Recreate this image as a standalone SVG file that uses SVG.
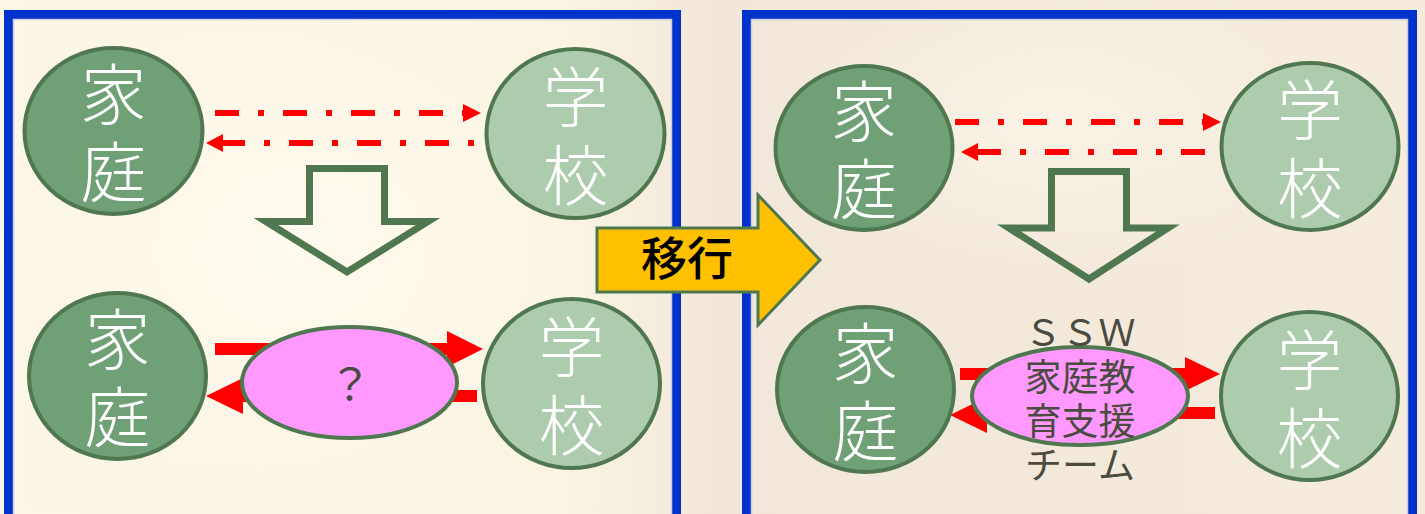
<svg xmlns="http://www.w3.org/2000/svg" width="1425" height="514" viewBox="0 0 1425 514">
<defs>
<linearGradient id="bg" x1="0" y1="0" x2="1" y2="0">
<stop offset="0" stop-color="#FCF6E6"/>
<stop offset="0.4" stop-color="#FBF4E2"/>
<stop offset="0.5" stop-color="#F1E7DA"/>
<stop offset="1" stop-color="#F5ECDD"/>
</linearGradient>
<radialGradient id="glow" cx="0.5" cy="0.5" r="0.5">
<stop offset="0" stop-color="#FFFBEF" stop-opacity="0.9"/>
<stop offset="1" stop-color="#FFFBEF" stop-opacity="0"/>
</radialGradient>
</defs>
<style>
.panel{fill:none;stroke:#0033CC;stroke-width:9}
.inner{fill:none;stroke:#C9CDE6;stroke-width:1.5}
.dark{fill:#6FA076;stroke:#507850;stroke-width:4}
.light{fill:#ADCBAD;stroke:#507850;stroke-width:4}
.pink{fill:#FF99FF;stroke:#507850;stroke-width:4}
.nt{font-family:"Noto Sans CJK JP","Noto Sans CJK SC",sans-serif;font-size:66px;font-weight:300;fill:#FFFFFF;text-anchor:middle}
.dash{stroke:#FF0000;stroke-width:6;fill:none;stroke-dasharray:24 19 6 19}
.red{fill:#FF0000}
.down{fill:none;stroke:#507850;stroke-width:7}
.mt{font-family:"Noto Sans CJK JP","Noto Sans CJK SC",sans-serif;font-size:37px;fill:#4B4B3F;text-anchor:middle}
</style>
<rect x="0" y="0" width="1425" height="514" fill="url(#bg)"/>
<ellipse cx="300" cy="250" rx="320" ry="260" fill="url(#glow)"/>
<ellipse cx="1050" cy="120" rx="300" ry="160" fill="url(#glow)" opacity="0.6"/>
<g id="panels">
<rect class="panel" x="8.5" y="14.5" width="668" height="520"/>
<rect class="inner" x="13.5" y="19.5" width="658" height="520"/>
<rect class="panel" x="746.5" y="14.5" width="666" height="520"/>
<rect class="inner" x="751.5" y="19.5" width="656" height="520"/>
</g>
<g id="connectors">
<line class="dash" x1="213" y1="113" x2="464" y2="113" stroke-dashoffset="66"/>
<polygon class="red" points="463,104 481,113 463,122"/>
<line class="dash" x1="223" y1="143" x2="476" y2="143" stroke-dashoffset="2"/>
<polygon class="red" points="223,134 206,143 223,152"/>
<line class="dash" x1="955" y1="122" x2="1204" y2="122"/>
<polygon class="red" points="1203,113 1221,122 1203,131"/>
<line class="dash" x1="978" y1="152" x2="1206" y2="152" stroke-dashoffset="1"/>
<polygon class="red" points="978,143 961,152 978,161"/>
<rect class="red" x="215" y="343" width="233" height="12"/>
<polygon class="red" points="447,331 483,349 447,367"/>
<rect class="red" x="242" y="390" width="235" height="12"/>
<polygon class="red" points="243,378 206,396 243,414"/>
<rect class="red" x="960" y="368" width="226" height="12"/>
<polygon class="red" points="1185,357 1220,374 1185,391"/>
<rect class="red" x="986" y="407" width="229" height="12"/>
<polygon class="red" points="987,397 950,415 987,433"/>
</g>
<g id="down-arrow-left">
<path class="down" d="M309.5,168.5 H384.5 V221.5 H428 L347,272 L266,221.5 H309.5 Z"/>
</g>
<g id="down-arrow-right">
<path class="down" d="M1051.5,171.5 H1126.5 V228 H1168 L1089,279 L1009,228 H1051.5 Z"/>
</g>
<g id="node-l-home-top">
<ellipse class="dark" cx="113.5" cy="131" rx="89" ry="83"/>
<text class="nt" x="113.5" y="119">家<tspan x="113.5" dy="78">庭</tspan></text>
</g>
<g id="node-l-school-top">
<ellipse class="light" cx="575.5" cy="133.5" rx="89" ry="84.5"/>
<text class="nt" x="575.5" y="122">学<tspan x="575.5" dy="78">校</tspan></text>
</g>
<g id="node-l-home-bottom">
<ellipse class="dark" cx="117.5" cy="376" rx="88.5" ry="83"/>
<text class="nt" x="117.5" y="364">家<tspan x="117.5" dy="78">庭</tspan></text>
</g>
<g id="node-l-school-bottom">
<ellipse class="light" cx="571.5" cy="383.5" rx="88.5" ry="84.5"/>
<text class="nt" x="571.5" y="372">学<tspan x="571.5" dy="78">校</tspan></text>
</g>
<g id="node-l-unknown">
<ellipse class="pink" cx="349.5" cy="382.5" rx="107.5" ry="55.5"/>
<text class="mt" x="350" y="401" style="font-size:44px;font-weight:400;fill:#4A4A44">？</text>
</g>
<g id="node-r-home-top">
<ellipse class="dark" cx="864" cy="148" rx="88.5" ry="82"/>
<text class="nt" x="864" y="136">家<tspan x="864" dy="78">庭</tspan></text>
</g>
<g id="node-r-school-top">
<ellipse class="light" cx="1310" cy="146.5" rx="88.5" ry="83.5"/>
<text class="nt" x="1310" y="135">学<tspan x="1310" dy="78">校</tspan></text>
</g>
<g id="node-r-home-bottom">
<ellipse class="dark" cx="865.5" cy="389.5" rx="88.5" ry="82.5"/>
<text class="nt" x="865.5" y="378">家<tspan x="865.5" dy="78">庭</tspan></text>
</g>
<g id="node-r-school-bottom">
<ellipse class="light" cx="1309.5" cy="396" rx="88.5" ry="84"/>
<text class="nt" x="1309.5" y="385">学<tspan x="1309.5" dy="78">校</tspan></text>
</g>
<g id="node-r-ssw">
<ellipse class="pink" cx="1080" cy="396" rx="108" ry="49"/>
<text class="mt" x="1080" y="346">ＳＳＷ<tspan x="1080" dy="45">家庭教</tspan><tspan x="1080" dy="44">育支援</tspan><tspan x="1080" dy="44">チーム</tspan></text>
</g>
<g id="transition-arrow">
<path d="M597,228 H758 V195 L820,260 L758,325 V292 H597 Z" fill="#FFC000" stroke="#507850" stroke-width="3"/>
<text x="687" y="275" style="font-family:'Noto Sans CJK JP','Noto Sans CJK SC',sans-serif;font-size:46px;font-weight:500;fill:#000000;text-anchor:middle">移行</text>
</g>
</svg>
